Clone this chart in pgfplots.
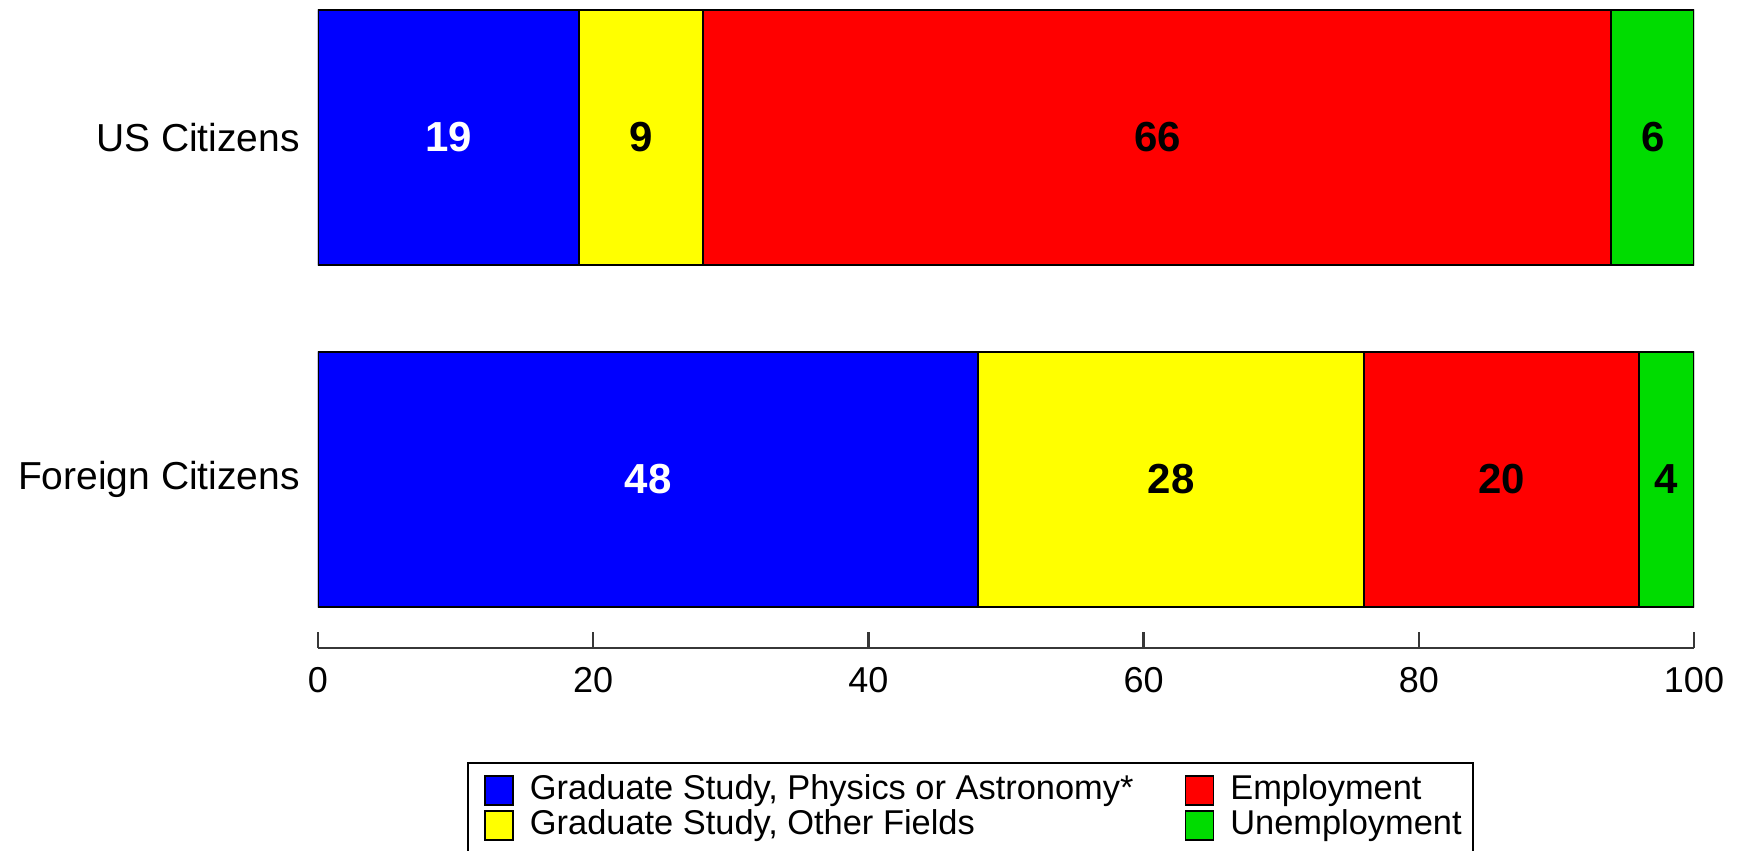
\documentclass[border=0pt]{standalone}
\usepackage{pgfplots}
\pgfplotsset{compat=1.18}
\usepackage{fontspec}
\setmainfont{Liberation Sans}
\definecolor{cblue}{RGB}{0,0,255}
\definecolor{cyellow}{RGB}{255,255,0}
\definecolor{cred}{RGB}{255,0,0}
\definecolor{cgreen}{RGB}{0,220,0}
\definecolor{axisgray}{RGB}{55,55,55}
\pgfplotsset{
  common/.style={
    width=688pt, height=319pt, scale only axis,
    xmin=0, xmax=100, ymin=-0.4927, ymax=1.3728,
  }
}
\begin{document}
\begin{tikzpicture}
\begin{axis}[common,
  xbar stacked, bar width=127.5pt,
  axis x line*=bottom, axis y line*=left,
  axis line style={-, axisgray, line width=1.2pt},
  y axis line style={draw=none},
  xtick={0,20,40,60,80,100}, xtick align=inside, xtick pos=bottom,
  major tick length=8pt,
  xtick style={axisgray, line width=1.2pt},
  ytick={0,1}, yticklabels={Foreign Citizens, US Citizens},
  ytick style={draw=none},
  xticklabel style={font=\fontsize{18}{21}\selectfont, yshift=-6pt},
  yticklabel style={font=\fontsize{19.5}{23}\selectfont, xshift=-5.5pt},
  /pgf/number format/assume math mode=true,
  legend columns=2, transpose legend,
  legend cell align=left,
  legend style={at={(0.1083,-0.1787)}, anchor=north west, draw=black, line width=1pt,
    font=\fontsize{17.2}{20}\selectfont, inner xsep=3pt, inner ysep=5pt, row sep=0pt,
    nodes={inner xsep=2.5pt, inner ysep=0.7pt, text height=12.5pt, text depth=3.8pt},
    /tikz/every odd column/.style={column sep=5.5pt},
    /tikz/every even column/.style={column sep=18pt}},
  legend image code/.code={\path (0pt,0pt); \draw[#1, draw=black, line width=0.9pt] (5pt,-7pt) rectangle (19pt,7.5pt);},
]
\addplot[fill=cblue, draw=black, line width=1pt] coordinates {(19,1) (48,0)};
\addlegendentry{Graduate Study, Physics or Astronomy*}
\addplot[fill=cyellow, draw=black, line width=1pt] coordinates {(9,1) (28,0)};
\addlegendentry{Graduate Study, Other Fields}
\addplot[fill=cred, draw=black, line width=1pt] coordinates {(66,1) (20,0)};
\addlegendentry{Employment}
\addplot[fill=cgreen, draw=black, line width=1pt] coordinates {(6,1) (4,0)};
\addlegendentry{Unemployment}
\end{axis}
\begin{axis}[common, hide axis]
\addplot[draw=none, mark=none, nodes near coords, point meta=explicit symbolic,
  every node near coord/.append style={anchor=center, text=white, font=\bfseries\fontsize{21}{25}\selectfont}]
  coordinates {(9.5,1) [19] (24,0) [48]};
\addplot[draw=none, mark=none, nodes near coords, point meta=explicit symbolic,
  every node near coord/.append style={anchor=center, text=black, font=\bfseries\fontsize{21}{25}\selectfont}]
  coordinates {(23.5,1) [9] (61,1) [66] (97,1) [6] (62,0) [28] (86,0) [20] (98,0) [4]};
\end{axis}
\pgfresetboundingbox
\path[use as bounding box] (-159pt,-101.5pt) rectangle (711pt,324pt);
\end{tikzpicture}
\end{document}
